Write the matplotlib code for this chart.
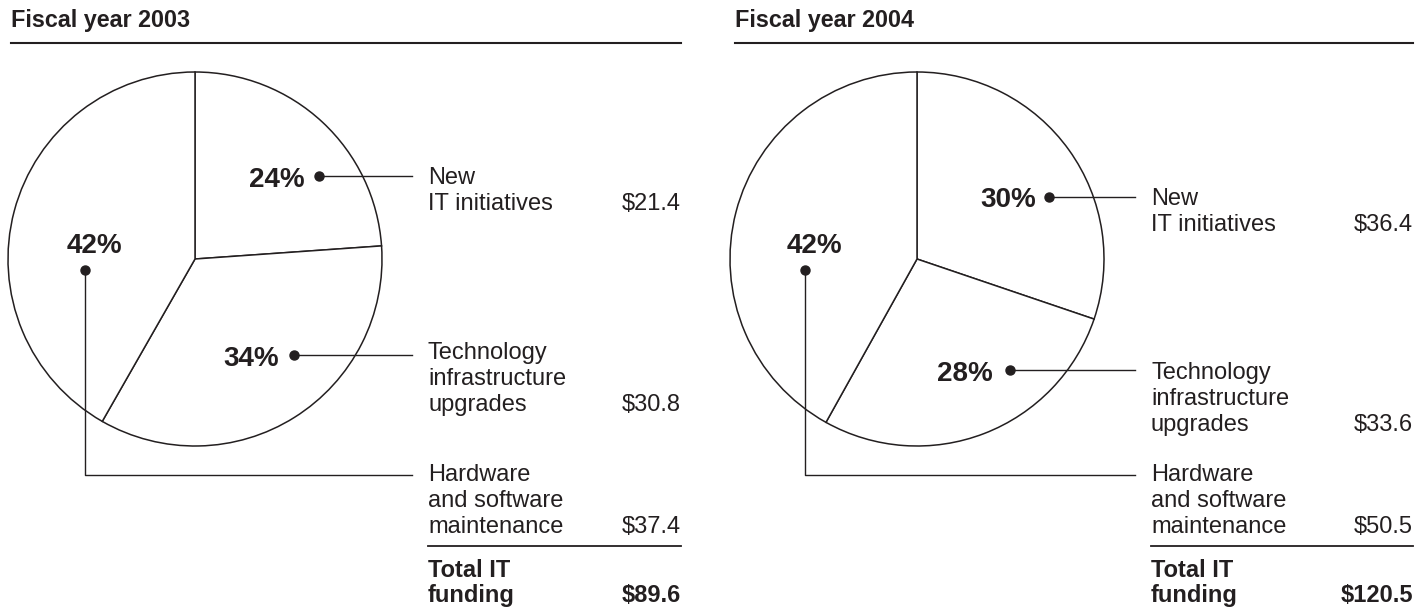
#Recreate the IT funding pie chart figure (fiscal years 2003 and 2004)

import matplotlib.pyplot as plt

plt.rcParams['font.family'] = ['Liberation Sans', 'DejaVu Sans']

## Data: IT funding by category, in $ millions
categories = [['New', 'IT initiatives'],
              ['Technology', 'infrastructure', 'upgrades'],
              ['Hardware', 'and software', 'maintenance']]
total_label = ['Total IT', 'funding']
titles = ['Fiscal year 2003', 'Fiscal year 2004']
funding_2003 = [21.4, 30.8, 37.4]
funding_2004 = [36.4, 33.6, 50.5]

ink = '#231f20'


def panel(ax, title, values, x_title, x_right, center, dots, pct_xy, pct_ha,
          x_lead, label_base):
    total = sum(values)
    # title and rule
    ax.text(x_title, 27, title, fontsize=16.8, fontweight='bold', color=ink, va='baseline')
    ax.plot([x_title, x_right], [42.5, 42.5], color=ink, lw=1.5)

    # pie, y axis is inverted so start at -90 and go counterclockwise (= clockwise on screen)
    ax.pie(values, colors=['white'] * 3, startangle=-90, counterclock=True,
           center=center, radius=187,
           wedgeprops=dict(edgecolor=ink, linewidth=1.1))

    x_lab = x_lead + 16
    for i, v in enumerate(values):
        dx, dy = dots[i]
        ax.plot(dx, dy, 'o', color=ink, ms=6.5, zorder=5)
        if i == 2:
            ax.plot([dx, dx, x_lead], [dy, 475, 475], color=ink, lw=1.0)
        else:
            ax.plot([dx, x_lead], [dy, dy], color=ink, lw=1.0)
        ax.text(pct_xy[i][0], pct_xy[i][1], '%d%%' % round(100 * v / total),
                fontsize=20, fontweight='bold', color=ink, ha=pct_ha[i], va='baseline')
        lines = categories[i]
        for k, s in enumerate(lines):
            ax.text(x_lab, label_base[i] + 26 * k, s, fontsize=17, color=ink, va='baseline')
        ax.text(x_right, label_base[i] + 26 * (len(lines) - 1), '$%.1f' % v,
                fontsize=17, color=ink, ha='right', va='baseline')

    # total
    ax.plot([x_lab, x_right], [546, 546], color=ink, lw=1.3)
    for k, s in enumerate(total_label):
        ax.text(x_lab, 577 + 25 * k, s, fontsize=17, fontweight='bold', color=ink, va='baseline')
    ax.text(x_right, 602, '$%.1f' % total, fontsize=17, fontweight='bold',
            color=ink, ha='right', va='baseline')


fig = plt.figure(figsize=(14.18, 6.07), dpi=100)
ax = fig.add_axes([0, 0, 1, 1])

panel(ax, titles[0], funding_2003, 11, 681, (195, 259),
      [(319, 176), (294, 355), (85, 270)],
      [(305, 187), (279, 366), (94, 253)], ['right', 'right', 'center'],
      412, [184, 359, 481])
panel(ax, titles[1], funding_2004, 735, 1413, (917, 259),
      [(1049, 197), (1010, 370), (805, 270)],
      [(1036, 207), (993, 381), (814, 253)], ['right', 'right', 'center'],
      1135, [205, 379, 481])

ax.set_xlim(0, 1418)
ax.set_ylim(607, 0)
ax.axis('off')

plt.savefig('out.png', dpi=100)
